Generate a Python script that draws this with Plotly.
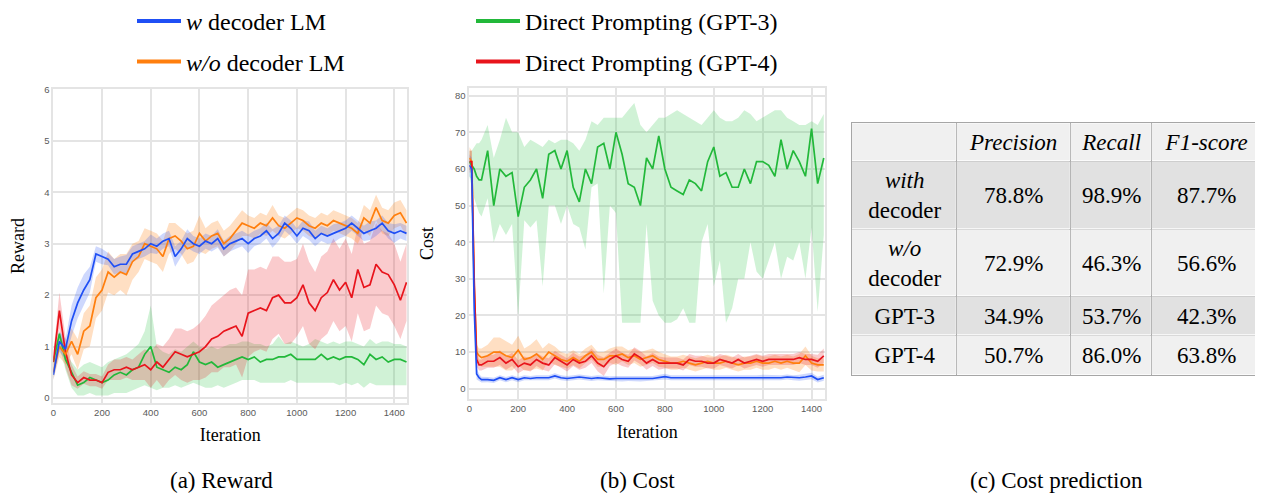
import plotly.graph_objects as go

# ---------------- data ----------------
iter_r = [0,25,50,75,100,125,150,175,200,225,250,275,300,325,350,375,400,425,450,475,
          500,525,550,575,600,625,650,675,700,725,750,775,800,825,850,875,900,925,950,975,
          1000,1025,1050,1075,1100,1125,1150,1175,1200,1225,1250,1275,1300,1325,1350,1375,1400,1425,1450]

blue_reward = [0.45,1.10,0.95,1.50,1.85,2.10,2.30,2.80,2.75,2.70,
               2.55,2.60,2.60,2.80,2.85,2.90,3.00,2.95,3.05,3.10,
               2.75,2.90,3.10,3.00,2.95,3.05,3.00,3.10,2.90,3.00,
               3.05,3.10,3.00,3.10,3.15,3.25,3.10,3.20,3.40,3.30,
               3.15,3.30,3.25,3.10,3.20,3.15,3.20,3.25,3.30,3.40,
               3.30,3.20,3.25,3.30,3.40,3.25,3.20,3.25,3.20]
blue_reward_sd = [0.10,0.20,0.20,0.30,0.30,0.30,0.25,0.15,0.15,0.12,
                  0.15,0.15,0.18,0.15,0.15,0.15,0.18,0.15,0.15,0.15,
                  0.20,0.15,0.18,0.15,0.15,0.15,0.15,0.18,0.15,0.15,
                  0.15,0.15,0.18,0.15,0.15,0.15,0.18,0.15,0.15,0.15,
                  0.15,0.15,0.18,0.15,0.15,0.15,0.18,0.15,0.15,0.15,
                  0.15,0.15,0.18,0.15,0.15,0.15,0.18,0.15,0.15]

orange_reward = [0.50,1.00,0.85,1.10,0.85,1.30,1.40,1.95,2.10,2.45,
                 2.35,2.45,2.40,2.65,2.75,3.00,2.95,2.90,2.75,3.10,
                 3.15,3.05,2.90,2.95,3.20,3.05,3.15,3.20,3.00,3.10,
                 3.25,3.40,3.35,3.30,3.40,3.35,3.50,3.35,3.30,3.40,
                 3.50,3.45,3.35,3.30,3.40,3.35,3.45,3.40,3.35,3.30,
                 3.20,3.50,3.40,3.70,3.45,3.40,3.55,3.60,3.40]
orange_reward_sd = [0.15,0.20,0.20,0.25,0.30,0.35,0.40,0.40,0.40,0.40,
                    0.35,0.35,0.40,0.35,0.30,0.30,0.30,0.30,0.30,0.30,
                    0.25,0.25,0.30,0.30,0.35,0.25,0.25,0.25,0.25,0.25,
                    0.25,0.25,0.20,0.20,0.20,0.20,0.25,0.20,0.20,0.20,
                    0.20,0.20,0.20,0.20,0.20,0.20,0.20,0.20,0.20,0.20,
                    0.20,0.25,0.25,0.25,0.25,0.25,0.25,0.25,0.25]

red_reward = [0.70,1.70,0.90,0.45,0.30,0.40,0.35,0.35,0.30,0.50,
              0.55,0.55,0.60,0.55,0.60,0.65,0.55,0.70,0.60,0.75,
              0.90,0.85,0.80,0.85,0.90,1.00,1.15,1.20,1.30,1.35,
              1.40,1.20,1.65,1.70,1.75,1.70,1.95,2.00,1.85,1.85,
              1.95,2.20,1.85,1.70,1.95,2.05,2.30,2.10,2.25,1.95,
              2.50,2.15,2.20,2.60,2.45,2.40,2.20,1.90,2.25]
red_reward_sd = [0.15,0.35,0.30,0.20,0.12,0.12,0.12,0.12,0.12,0.15,
                 0.20,0.20,0.20,0.20,0.25,0.30,0.35,0.35,0.40,0.40,
                 0.45,0.50,0.50,0.50,0.55,0.60,0.65,0.70,0.70,0.75,
                 0.75,0.80,0.85,0.80,0.80,0.80,0.80,0.75,0.80,0.80,
                 0.75,0.80,0.80,0.75,0.80,0.80,0.80,0.80,0.85,0.85,
                 0.85,0.85,0.85,0.80,0.80,0.80,0.80,0.75,0.75]

green_reward = [0.70,1.25,0.75,0.50,0.25,0.30,0.40,0.35,0.30,0.35,
                0.45,0.50,0.45,0.55,0.60,0.85,1.00,0.60,0.55,0.50,
                0.60,0.55,0.65,0.90,0.70,0.65,0.70,0.60,0.65,0.70,
                0.75,0.80,0.75,0.80,0.70,0.75,0.75,0.80,0.80,0.85,
                0.75,0.75,0.75,0.75,0.85,0.75,0.80,0.75,0.80,0.80,
                0.75,0.65,0.85,0.75,0.80,0.70,0.75,0.75,0.70]
green_reward_hi = [0.80,1.30,0.90,0.70,0.55,0.65,0.70,0.65,0.60,0.70,
                   0.75,0.80,0.85,0.95,1.05,1.30,1.80,1.00,0.90,0.85,
                   0.95,0.90,1.00,1.10,1.00,0.95,1.00,0.95,1.00,1.05,
                   1.05,1.10,1.10,1.05,1.05,1.00,1.05,1.20,1.05,1.10,
                   1.05,1.00,1.05,1.15,1.10,1.05,1.10,1.05,1.10,1.10,
                   1.05,1.00,1.15,1.05,1.10,1.10,1.05,1.05,1.00]
green_reward_lo = [0.40,1.00,0.55,0.20,0.05,0.05,0.10,0.05,0.05,0.05,
                   0.10,0.10,0.10,0.15,0.20,0.25,0.20,0.15,0.20,0.20,
                   0.25,0.20,0.25,0.30,0.25,0.20,0.20,0.25,0.20,0.25,
                   0.30,0.35,0.35,0.35,0.30,0.30,0.30,0.30,0.30,0.35,
                   0.30,0.30,0.30,0.30,0.30,0.30,0.30,0.25,0.30,0.25,
                   0.30,0.20,0.30,0.25,0.25,0.25,0.25,0.25,0.25]

iter_c = [0,10,20,30,40,
          50,75,100,125,150,175,200,225,250,275,
          300,325,350,375,400,425,450,475,500,525,
          550,575,600,625,650,675,700,725,750,775,
          800,825,850,875,900,925,950,975,1000,1025,
          1050,1075,1100,1125,1150,1175,1200,1225,1250,1275,
          1300,1325,1350,1375,1400,1425,1450]

blue_cost = [61,60,22,4.0,3.0,
             2.5,2.5,2.3,3.0,2.5,3.0,2.5,3.0,2.8,3.0,
             3.0,3.0,3.5,3.0,2.8,3.0,3.2,3.0,2.8,3.0,
             2.8,2.7,2.8,2.7,2.8,2.8,2.7,2.8,2.8,3.0,
             3.3,3.0,3.0,3.0,2.8,2.8,3.0,2.8,2.8,3.0,
             2.8,3.0,3.0,2.8,3.0,3.0,3.0,3.0,3.0,3.0,
             3.2,3.0,3.0,3.2,3.5,2.5,3.0]
blue_cost_sd = [3,3,3,1.5,1.0,
                0.8,0.7,0.7,0.7,0.7,0.7,0.7,0.7,0.7,0.7,
                0.7,0.7,0.7,0.7,0.7,0.7,0.7,0.7,0.7,0.7,
                0.7,0.7,0.7,0.7,0.7,0.7,0.7,0.7,0.7,0.7,
                0.8,0.7,0.7,0.7,0.7,0.7,0.7,0.7,0.7,0.7,
                0.7,0.7,0.7,0.7,0.7,0.7,0.8,0.7,0.7,0.7,
                0.7,0.7,0.8,0.8,0.9,0.8,0.8]

red_cost = [62,62,30,8.0,6.5,
            6.5,7.5,7.5,8.5,7.0,8.0,6.0,7.0,6.5,8.0,
            7.0,6.5,8.5,7.5,6.5,8.0,7.0,7.5,9.0,7.0,
            6.0,8.0,9.0,8.0,7.5,9.5,8.5,7.0,8.0,7.0,
            7.0,7.0,7.0,6.5,8.0,7.5,7.5,7.0,7.0,8.0,
            7.5,7.0,8.0,7.0,7.5,8.0,7.5,8.0,8.0,8.0,
            8.0,8.0,8.5,8.0,8.0,7.5,9.0]
red_cost_sd = [3,3,3,2,1.5,
               1.5,1.8,1.8,2.0,1.8,1.8,1.8,1.8,1.8,1.8,
               1.8,1.8,1.8,1.8,1.8,1.8,1.8,1.8,2.0,2.2,
               2.5,1.8,2.0,1.8,1.8,1.8,1.8,1.8,1.8,1.8,
               1.5,1.5,1.5,1.5,1.5,1.5,1.5,1.5,1.5,1.5,
               1.5,1.5,1.5,1.5,1.5,1.5,1.5,1.5,1.5,1.5,
               1.5,1.5,1.5,1.5,1.5,1.8,2.0]

orange_cost = [63,62,28,10,9.0,
               8.5,9.0,10.0,10.0,9.0,8.5,10.5,8.0,8.5,9.5,
               8.0,10.0,9.0,8.0,7.5,8.5,7.5,9.0,10.0,8.0,
               8.0,9.0,9.0,9.5,8.5,9.0,8.0,8.5,9.0,8.0,
               7.5,7.0,7.0,7.5,7.0,6.5,7.0,7.5,7.0,7.0,
               7.5,7.0,6.5,7.0,7.0,7.5,7.0,7.0,7.5,7.0,
               7.5,7.0,7.0,9.0,7.0,6.5,6.5]
orange_cost_sd = [3,3,3,2,2,
                  2.5,3.0,4.0,4.0,4.0,3.5,4.0,3.0,3.5,4.0,
                  3.0,2.5,2.5,2.0,2.0,2.0,2.0,2.0,2.0,2.0,
                  2.0,2.0,2.5,2.0,2.0,2.0,2.0,2.0,2.0,2.0,
                  1.8,1.8,1.8,1.8,1.8,1.8,1.8,1.8,1.8,1.8,
                  1.8,1.8,1.8,1.8,1.8,1.8,1.8,1.8,1.8,1.8,
                  1.8,1.8,2.5,2.5,2.0,1.8,1.8]

green_cost = [62,61,60,58,57,
              57,65,50,60,58,59,47,55,57,60,
              52,64,65,60,65,55,51,60,56,66,
              67,60,70,64,56,55,50,63,60,69,
              60,55,54,53,57,56,54,62,66,58,
              59,55,55,60,56,62,62,61,58,68,
              60,65,62,58,71,56,63]
green_cost_hi = [65,65,66,67,67,
                 68,72,63,68,74,70,70,66,68,67,
                 66,68,67,68,68,67,65,68,73,72,
                 74,74,74,74,76,78,72,70,72,74,
                 74,75,76,75,74,73,72,74,76,74,
                 73,73,74,76,75,73,74,75,76,76,
                 74,73,72,72,73,72,75]
green_cost_lo = [58,55,52,50,48,
                 47,52,40,45,42,45,20,46,44,46,
                 28,50,50,45,50,45,44,38,55,56,
                 26,50,48,18,18,18,18,45,24,20,
                 18,18,19,22,18,18,40,45,28,35,
                 18,22,30,30,40,32,30,35,40,30,
                 36,35,40,30,44,21,42]

table_methods = ["<i>with</i><br>decoder", "<i>w/o</i><br>decoder", "GPT-3", "GPT-4"]
table_header = ["", "<i>Precision</i>", "<i>Recall</i>", "<i>F1-score</i>"]
precision = [78.8, 72.9, 34.9, 50.7]
recall = [98.9, 46.3, 53.7, 86.0]
f1 = [87.7, 56.6, 42.3, 63.8]
row_shade = [0, 1, 0, 1, 0]          # header, with, w/o, GPT-3, GPT-4 (1 = darker)

names = ["<i>w</i> decoder LM", "<i>w/o</i> decoder LM",
         "Direct Prompting (GPT-3)", "Direct Prompting (GPT-4)"]

# ---------------- styles / layout constants ----------------
colors = ["#1f4ff5", "#ff7f0e", "#22b83a", "#e8141c"]
fills = ["rgba(31,79,245,0.22)", "rgba(255,127,14,0.25)",
         "rgba(40,195,70,0.22)", "rgba(232,20,28,0.22)"]
W, H = 1263, 493
OFF = 8   # page body margin in the browser


def fx(p):
    return (p - OFF) / W


def fy(p):
    return 1 - (p - OFF) / H


col_widths = [105, 114, 81, 110]
row_heights = [38.4, 67.6, 67.4, 39, 39.3]

fig = go.Figure()


def band(x, lo, hi, fill, xa, ya):
    fig.add_trace(go.Scatter(x=list(x) + list(x)[::-1], y=list(hi) + list(lo)[::-1],
                             fill="toself", fillcolor=fill, line=dict(width=0),
                             mode="lines", hoverinfo="skip", showlegend=False,
                             xaxis=xa, yaxis=ya))


def line(x, y, color, xa, ya):
    fig.add_trace(go.Scatter(x=x, y=y, mode="lines", line=dict(color=color, width=1.7),
                             showlegend=False, xaxis=xa, yaxis=ya))


def lohi(m, s, floor=None):
    lo = [a - b for a, b in zip(m, s)]
    if floor is not None:
        lo = [max(floor, v) for v in lo]
    return lo, [a + b for a, b in zip(m, s)]


# Reward panel
band(iter_r, green_reward_lo, green_reward_hi, fills[2], "x", "y")
band(iter_r, *lohi(red_reward, red_reward_sd), fills[3], "x", "y")
band(iter_r, *lohi(orange_reward, orange_reward_sd), fills[1], "x", "y")
band(iter_r, *lohi(blue_reward, blue_reward_sd), fills[0], "x", "y")
line(iter_r, green_reward, colors[2], "x", "y")
line(iter_r, red_reward, colors[3], "x", "y")
line(iter_r, orange_reward, colors[1], "x", "y")
line(iter_r, blue_reward, colors[0], "x", "y")

# Cost panel
band(iter_c, green_cost_lo, green_cost_hi, fills[2], "x2", "y2")
band(iter_c, *lohi(orange_cost, orange_cost_sd), fills[1], "x2", "y2")
band(iter_c, *lohi(red_cost, red_cost_sd), fills[3], "x2", "y2")
band(iter_c, *lohi(blue_cost, blue_cost_sd, floor=0), fills[0], "x2", "y2")
line(iter_c, green_cost, colors[2], "x2", "y2")
line(iter_c, orange_cost, colors[1], "x2", "y2")
line(iter_c, red_cost, colors[3], "x2", "y2")
line(iter_c, blue_cost, colors[0], "x2", "y2")

# Legend keys
legend_ids = ["legend", "legend2", "legend3", "legend4"]
for name, col, lid in zip(names, colors, legend_ids):
    fig.add_trace(go.Scatter(x=[None], y=[None], mode="lines", name=name,
                             line=dict(color=col, width=4), legend=lid,
                             xaxis="x", yaxis="y", showlegend=True))

# Table drawn as a heatmap of cells
x_edges = [0]
for w_ in col_widths:
    x_edges.append(x_edges[-1] + w_)
y_edges = [0]
for h_ in row_heights:
    y_edges.append(y_edges[-1] + h_)

cell_text = [table_header]
for i in range(len(table_methods)):
    cell_text.append([table_methods[i], f"{precision[i]:.1f}%",
                      f"{recall[i]:.1f}%", f"{f1[i]:.1f}%"])
z = [[s] * 4 for s in row_shade]

fig.add_trace(go.Heatmap(
    x=x_edges, y=y_edges, z=z, text=cell_text, texttemplate="%{text}",
    textfont=dict(family="Liberation Serif", size=23, color="black"),
    colorscale=[[0, "#f0f0f0"], [1, "#e1e1e1"]], zmin=0, zmax=1,
    showscale=False, xgap=1, ygap=1, hoverinfo="skip",
    xaxis="x3", yaxis="y3"))

tickfont = dict(family="Liberation Sans", size=9.5, color="#5a5a5a")
titlefont = dict(family="Liberation Serif", size=18, color="black")
grid = "#e4e4e4"
axis_common = dict(showgrid=True, gridcolor=grid, gridwidth=1.5, zeroline=False,
                   showline=True, linecolor=grid, linewidth=1.5, mirror=True,
                   ticks="", tickfont=tickfont)
table_axis = dict(showgrid=True, gridcolor="#a6a6a6", gridwidth=1, zeroline=False,
                  showline=True, linecolor="#a6a6a6", linewidth=1, mirror=True,
                  showticklabels=False, ticks="")

legend_common = dict(font=dict(family="Liberation Serif", size=24, color="black"),
                     bgcolor="rgba(0,0,0,0)", xanchor="left", yanchor="middle",
                     itemwidth=44)

fig.update_layout(
    width=W, height=H,
    margin=dict(l=0, r=0, t=0, b=0, autoexpand=False),
    paper_bgcolor="white", plot_bgcolor="white",
    font=dict(family="Liberation Serif", color="black"),
    xaxis=dict(domain=[fx(53.3), fx(407)], range=[0, 1452], tickvals=[0, 200, 400, 600, 800, 1000, 1200, 1400],
               title=dict(text="Iteration", font=titlefont, standoff=12), anchor="y", **axis_common),
    yaxis=dict(domain=[fy(402.7), fy(89.3)], range=[-0.09, 6.0], tickvals=[0, 1, 2, 3, 4, 5, 6],
               title=dict(text="Reward", font=titlefont, standoff=15), anchor="x", **axis_common),
    xaxis2=dict(domain=[fx(469.3), fx(825)], range=[0, 1455], tickvals=[0, 200, 400, 600, 800, 1000, 1200, 1400],
                title=dict(text="Iteration", font=titlefont, standoff=12), anchor="y2", **axis_common),
    yaxis2=dict(domain=[fy(399), fy(88)], range=[-2.8, 82.1], tickvals=[0, 10, 20, 30, 40, 50, 60, 70, 80],
                title=dict(text="Cost", font=titlefont, standoff=17), anchor="x2", **axis_common),
    xaxis3=dict(domain=[fx(851.7), fx(1261.7)], range=[0, x_edges[-1]], tickvals=x_edges,
                anchor="y3", **table_axis),
    yaxis3=dict(domain=[fy(375), fy(123.3)], range=[y_edges[-1], 0], tickvals=y_edges,
                anchor="x3", **table_axis),
    legend=dict(x=fx(132), y=fy(21.5), **legend_common),
    legend2=dict(x=fx(132), y=fy(62), **legend_common),
    legend3=dict(x=fx(471), y=fy(21.5), **legend_common),
    legend4=dict(x=fx(471), y=fy(62), **legend_common),
)

captions = [("(a) Reward", 221), ("(b) Cost", 637), ("(c) Cost prediction", 1056)]
for text, cx in captions:
    fig.add_annotation(text=text, x=fx(cx), y=fy(480), xref="paper", yref="paper",
                       showarrow=False, xanchor="center", yanchor="middle",
                       font=dict(family="Liberation Serif", size=23, color="black"))

fig.write_html("out.html")
